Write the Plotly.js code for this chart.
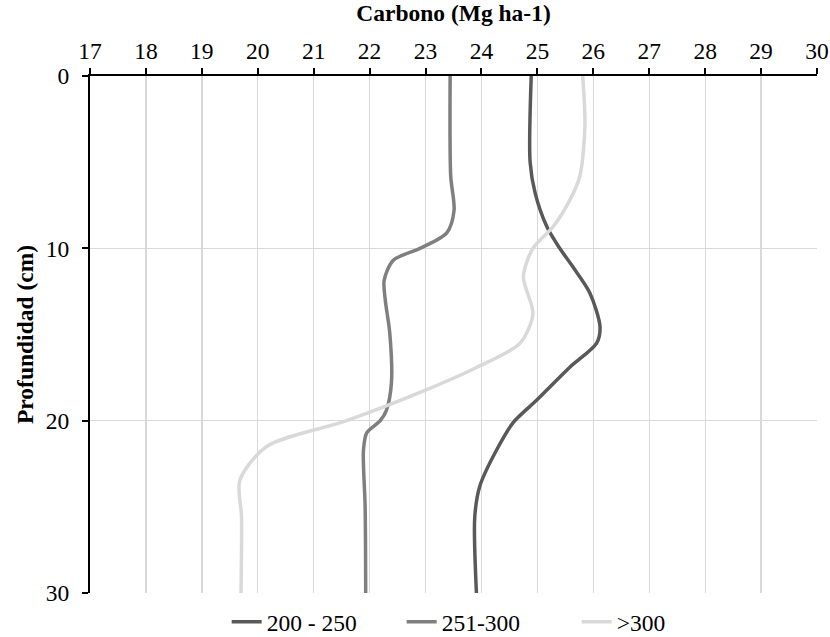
<!DOCTYPE html>
<html>
<head>
<meta charset="utf-8">
<script src="https://cdn.plot.ly/plotly-3.0.1.min.js"></script>
<style>html,body{margin:0;padding:0;background:#fff;}#chart{width:830px;height:637px;}</style>
</head>
<body>
<div id="chart"></div>
<script>
// Series names
const seriesNames = ["200 - 250", "251-300", ">300"];

// 200 - 250 : carbon (Mg ha-1) read at depths (cm)
const depth200 = [0, 5, 6.8, 8.75, 10, 11.1, 12.6, 14.55, 15.5, 16.9, 18.8, 20.1, 21.7, 23.8, 25.6, 30];
const carbon200 = [24.89, 24.87, 24.96, 25.17, 25.4, 25.64, 25.94, 26.12, 26.06, 25.58, 24.99, 24.57, 24.27, 23.97, 23.88, 23.91];

// 251-300
const depth251 = [0, 5.8, 7.8, 9.1, 10, 10.7, 11.85, 13, 14.9, 17.8, 19.4, 20, 20.7, 21.7, 25, 30];
const carbon251 = [23.44, 23.45, 23.51, 23.38, 22.9, 22.42, 22.26, 22.28, 22.36, 22.39, 22.3, 22.19, 21.95, 21.89, 21.92, 21.93];

// >300
const depth300 = [0, 2.9, 5.8, 7.2, 8.75, 10, 11.65, 13.8, 15.5, 16.9, 18.2, 20, 21.5, 23.45, 25.6, 30];
const carbon300 = [25.81, 25.85, 25.76, 25.58, 25.28, 24.92, 24.75, 24.92, 24.69, 23.92, 23.02, 21.59, 20.16, 19.68, 19.71, 19.7];

// Axis ticks
const xTicks = [17,18,19,20,21,22,23,24,25,26,27,28,29,30];
const yTicks = [0,10,20,30];

const colors = ["#595959", "#7f7f7f", "#d9d9d9"];
const depths = [depth200, depth251, depth300];
const carbons = [carbon200, carbon251, carbon300];

const traces = seriesNames.map((n, i) => ({
  type: "scatter",
  mode: "lines",
  name: n,
  x: carbons[i],
  y: depths[i],
  line: {color: colors[i], width: 3.5, shape: "spline", smoothing: 0.8}
}));

const FAM = "Liberation Serif";
const f = (size) => ({family: FAM, size: size, color: "#000"});

const layout = {
  width: 830, height: 637,
  margin: {l: 90, r: 13, t: 76, b: 44, autoexpand: false},
  paper_bgcolor: "#fff", plot_bgcolor: "#fff",
  font: f(23.5),
  showlegend: true,
  legend: {orientation: "h", x: 0.188, xanchor: "left", y: -0.056, yanchor: "middle",
           font: f(23.5), entrywidth: 130, bgcolor: "rgba(0,0,0,0)"},
  xaxis: {
    side: "top", range: [17, 30], tickvals: xTicks, ticktext: xTicks.map(String),
    ticks: "outside", ticklen: 6, tickcolor: "#000", tickwidth: 2,
    ticklabelstandoff: 0,
    showline: true, linecolor: "#000", linewidth: 2,
    showgrid: true, gridcolor: "#d9d9d9", gridwidth: 1.3, zeroline: false,
    tickfont: f(23.5),
    title: {text: "<b>Carbono (Mg ha-1)</b>", font: f(23.5), standoff: 13}
  },
  yaxis: {
    range: [30, 0], tickvals: yTicks, ticktext: yTicks.map(String),
    ticks: "outside", ticklen: 6, tickcolor: "#000", tickwidth: 2,
    ticklabelstandoff: 8,
    showline: true, linecolor: "#000", linewidth: 2,
    showgrid: true, gridcolor: "#d9d9d9", gridwidth: 1.3, zeroline: false,
    tickfont: f(23.5),
    title: {text: "<b>Profundidad (cm)</b>", font: f(23.5), standoff: 6}
  }
};

Plotly.newPlot("chart", traces, layout, {staticPlot: true, displayModeBar: false});
</script>
</body>
</html>
